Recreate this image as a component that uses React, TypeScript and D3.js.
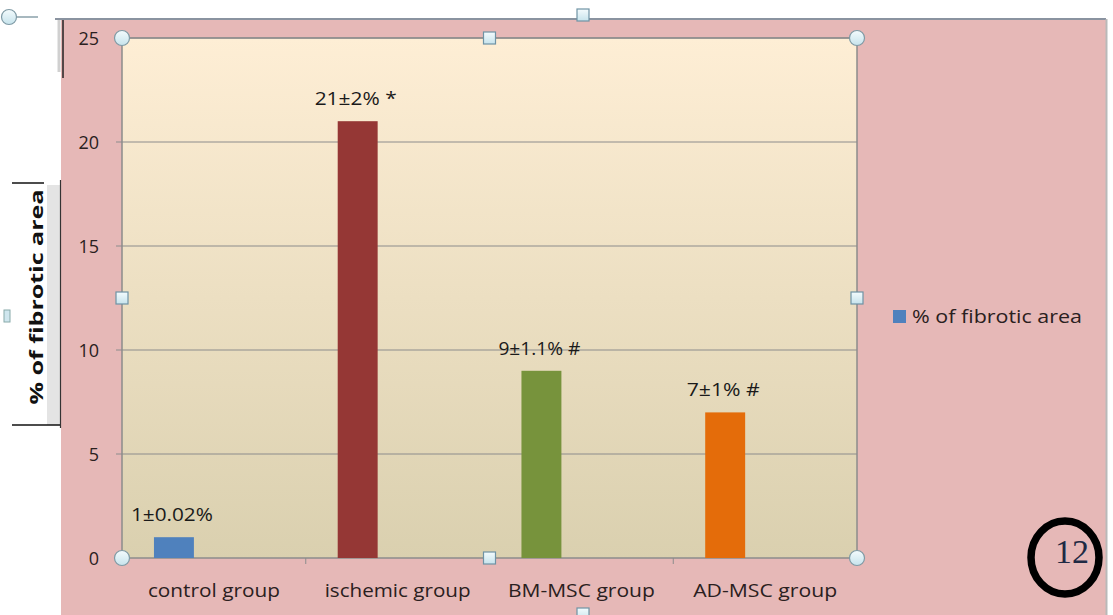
import React from "react";
import * as d3 from "d3";

const categories = ["control group", "ischemic group", "BM-MSC group", "AD-MSC group"];
const values = [1, 21, 9, 7];
const valueLabels = ["1±0.02%", "21±2% *", "9±1.1% #", "7±1% #"];
const barColors = ["#4F81BD", "#953735", "#77933C", "#E46C0A"];
const yTicks = [0, 5, 10, 15, 20, 25];
const seriesSlots = ["s1", "s2", "s3"];
const legendLabel = "% of fibrotic area";
const yTitle = "% of fibrotic area";

export default function App() {
  const W = 1113, H = 615;
  const plot = { left: 122, right: 857, top: 38, bottom: 558 };
  const x = d3.scaleBand<string>().domain(categories).range([plot.left, plot.right]).paddingInner(0).paddingOuter(0);
  const inner = d3.scaleBand<string>().domain(seriesSlots).range([0, x.bandwidth()]).paddingInner(0).paddingOuter(0.8);
  const y = d3.scaleLinear().domain([0, 25]).range([plot.bottom, plot.top]);
  const font = "'Open Sans', Lato, sans-serif";
  const midX = (plot.left + plot.right) / 2;
  const midY = (plot.top + plot.bottom) / 2;
  const catWidths = [132, 146, 147, 144];
  const valWidths = [82, 82, 82, 73];
  const circ = (cx: number, cy: number, k: string) => (
    <circle key={k} cx={cx} cy={cy} r={7.5} fill="url(#hg)" stroke="#7f9aa5" strokeWidth={1.2} />
  );
  const sq = (cx: number, cy: number, k: string) => (
    <rect key={k} x={cx - 6} y={cy - 6} width={12} height={12} fill="url(#hg)" stroke="#6f93a5" strokeWidth={1.2} />
  );
  return (
    <svg width={W} height={H} style={{ position: "absolute", left: 0, top: 0 }} fontFamily={font}>
      <defs>
        <linearGradient id="bg" x1="0" y1="0" x2="0" y2="1">
          <stop offset="0" stopColor="#FEEED5" />
          <stop offset="1" stopColor="#DAD0AF" />
        </linearGradient>
        <linearGradient id="hg" x1="0" y1="0" x2="0" y2="1">
          <stop offset="0" stopColor="#f4fbfd" />
          <stop offset="1" stopColor="#c6e3ec" />
        </linearGradient>
      </defs>
      <rect x={0} y={0} width={W} height={H} fill="#ffffff" />
      {/* outer pink chart area */}
      <rect x={61} y={19} width={1045} height={H - 19} fill="#E6B8B7" />
      <line x1={55} x2={1106} y1={19} y2={19} stroke="#8a93a0" strokeWidth={2} />
      <line x1={1106.5} x2={1106.5} y1={19} y2={H} stroke="#b9b9b9" strokeWidth={2} />
      <line x1={63} x2={63} y1={20} y2={78} stroke="#222" strokeWidth={1.5} />
      <line x1={59} x2={59} y1={20} y2={72} stroke="#d0d0d0" strokeWidth={3} />
      {/* left title box */}
      <rect x={47} y={185} width={13} height={240} fill="#e4e4e4" />
      <line x1={60.5} x2={60.5} y1={180} y2={428} stroke="#333" strokeWidth={1.2} />
      <line x1={12} x2={44} y1={183} y2={183} stroke="#111" strokeWidth={1.5} />
      <line x1={12} x2={60} y1={425} y2={425} stroke="#111" strokeWidth={1.5} />
      <line x1={17} x2={38} y1={17} y2={17} stroke="#8aa0aa" strokeWidth={1.5} />
      <text transform={`translate(43,297) rotate(-90)`} textAnchor="middle" fontSize={18} fontWeight="bold" fill="#111"
        textLength={215} lengthAdjust="spacingAndGlyphs">{yTitle}</text>
      {/* plot area */}
      <rect x={plot.left} y={plot.top} width={plot.right - plot.left} height={plot.bottom - plot.top} fill="url(#bg)" />
      {yTicks.filter(t => t > 0).map(t => (
        <line key={t} x1={plot.left} x2={plot.right} y1={y(t)} y2={y(t)} stroke="#8c8c8c" strokeWidth={1} />
      ))}
      {yTicks.map(t => (
        <g key={"yt" + t}>
          <line x1={plot.left - 6} x2={plot.left} y1={y(t)} y2={y(t)} stroke="#8c8c8c" />
          <text x={99} y={y(t) + 6.5} textAnchor="end" fontSize={18} fill="#2a2020">{t}</text>
        </g>
      ))}
      <rect x={plot.left} y={plot.top} width={plot.right - plot.left} height={plot.bottom - plot.top} fill="none" stroke="#8c8c8c" strokeWidth={1.5} />
      {categories.map((c, i) => (
        <line key={"xt" + i} x1={x(c)!} x2={x(c)!} y1={plot.bottom} y2={plot.bottom + 6} stroke="#8c8c8c" />
      ))}
      {/* bars */}
      {categories.map((c, i) => {
        const bx = x(c)! + inner("s1")!;
        const bw = inner.bandwidth();
        return (
          <g key={c}>
            <rect x={bx} y={y(values[i])} width={bw} height={y(0) - y(values[i])} fill={barColors[i]} />
            <text x={bx + bw / 2 - 2} y={y(values[i]) - 16} textAnchor="middle" fontSize={18} fill="#1a1a1a"
              textLength={valWidths[i]} lengthAdjust="spacingAndGlyphs">{valueLabels[i]}</text>
            <text x={x(c)! + x.bandwidth() / 2} y={597} textAnchor="middle" fontSize={19} fill="#2a2020"
              textLength={catWidths[i]} lengthAdjust="spacingAndGlyphs">{c}</text>
          </g>
        );
      })}
      {/* selection handles */}
      {circ(plot.left, plot.top, "c1")}
      {circ(plot.right, plot.top, "c2")}
      {circ(plot.left, plot.bottom, "c3")}
      {circ(plot.right, plot.bottom, "c4")}
      {sq(midX, plot.top, "s1")}
      {sq(midX, plot.bottom, "s2")}
      {sq(plot.left, midY, "s3")}
      {sq(plot.right, midY, "s4")}
      {sq(583, 15, "s5")}
      {sq(583, 614, "s6")}
      <circle cx={9} cy={17} r={7.5} fill="url(#hg)" stroke="#7f9aa5" strokeWidth={1.2} />
      <rect x={4} y={310} width={6} height={12} fill="#cfe6ee" stroke="#8aa" />
      {/* legend */}
      <rect x={893} y={310} width={13} height={13} fill={barColors[0]} />
      <text x={912} y={323} fontSize={18} fill="#2a2020" textLength={170} lengthAdjust="spacingAndGlyphs">{legendLabel}</text>
      {/* page number */}
      <ellipse cx={1065} cy={557.5} rx={34} ry={36.5} fill="none" stroke="#000" strokeWidth={7.5} />
      <text x={1072} y={563} textAnchor="middle" fontSize={34} fontFamily="'Liberation Serif', 'DejaVu Serif', serif" fill="#1f2a44">12</text>
    </svg>
  );
}
